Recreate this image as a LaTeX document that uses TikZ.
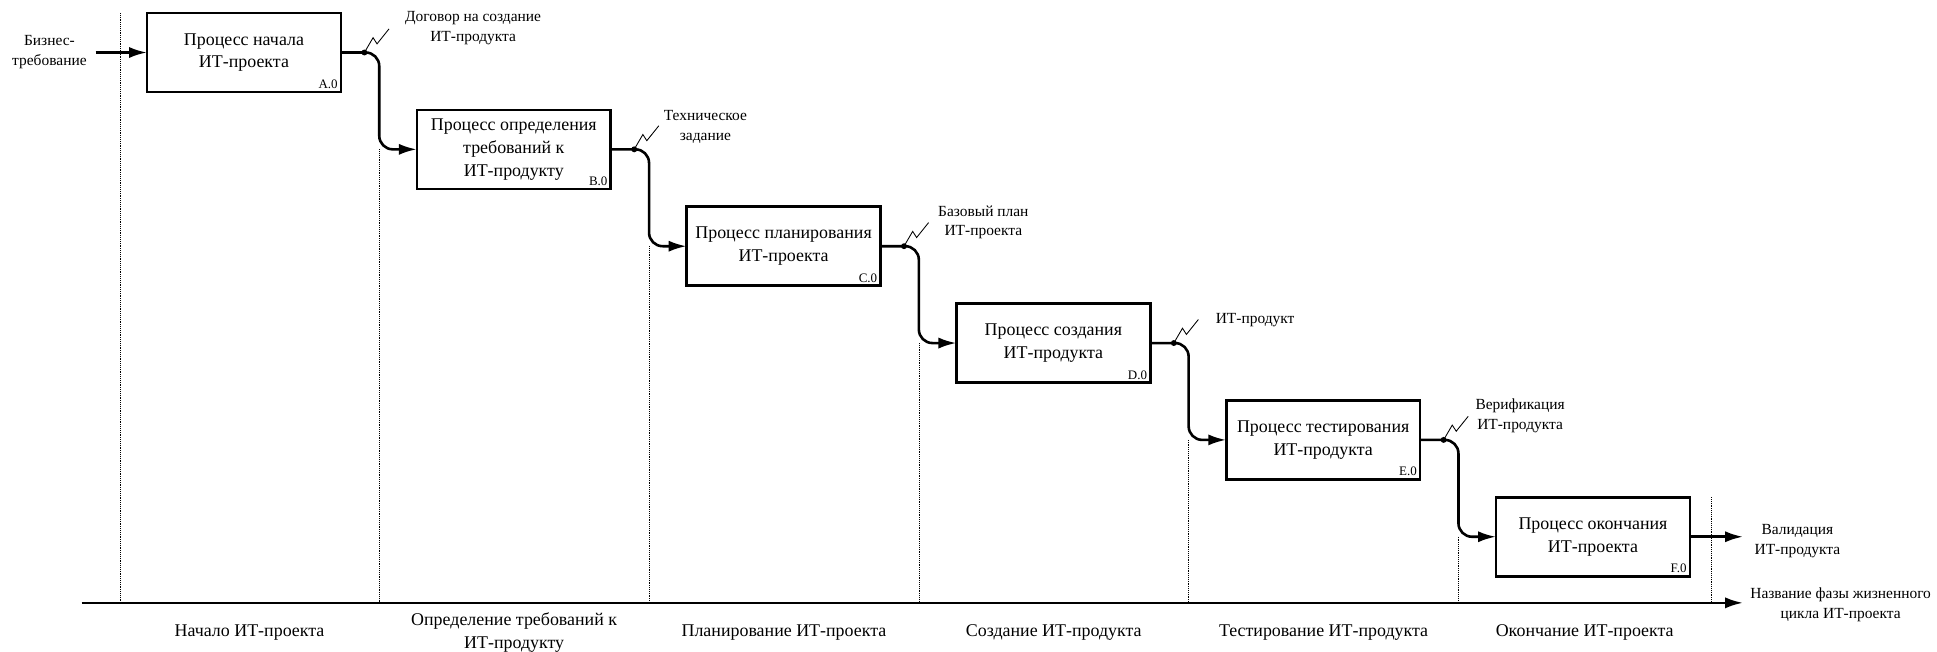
\documentclass[tikz,border=0pt]{standalone}
\usepackage{fontspec}
\setmainfont{Liberation Serif}
\usetikzlibrary{arrows.meta,calc,positioning}

\begin{document}
\begin{tikzpicture}[x=1pt,y=-1pt,
proc/.style={draw,line width=2.1pt,minimum width=157pt,minimum height=64pt,inner sep=2pt,outer sep=0pt,align=center,font=\fontsize{14.5}{18.5}\selectfont},
flow/.style={line width=2.1pt,-{Latex[length=14.5pt,width=9pt]}},
lbl/.style={align=center,inner sep=0pt,font=\fontsize{12.5}{16}\selectfont},
phlbl/.style={align=center,inner sep=0pt,font=\fontsize{14.5}{19}\selectfont},
code/.style={anchor=south east,inner sep=2.5pt,font=\fontsize{10.5}{12}\selectfont},
sep/.style={densely dotted,line width=0.5pt}]

\useasboundingbox (0,0) rectangle (1568,527);

\node[proc] (A) at (197.5,42.5) {Процесс начала\\ИТ-проекта};
\node[proc,below right=14.4pt and 61.4pt of A] (B) {Процесс определения\\требований к\\ИТ-продукту};
\node[proc,below right=14.4pt and 61.4pt of B] (C) {Процесс планирования\\ИТ-проекта};
\node[proc,below right=14.4pt and 61.4pt of C] (D) {Процесс создания\\ИТ-продукта};
\node[proc,below right=14.4pt and 61.4pt of D] (E) {Процесс тестирования\\ИТ-продукта};
\node[proc,below right=14.4pt and 61.4pt of E] (F) {Процесс окончания\\ИТ-проекта};

\foreach \nn in {A,...,F}{
\node[code] (c\nn) at (\nn.south east) {\nn.0};
}

% time axis
\draw [line width=2.1pt,-{Latex[length=14.5pt,width=9pt]}] (66,488) coordinate(ax0) -- (1411,488) coordinate(ax1);
\node[lbl] (axl) at (1490,489.5) {Название фазы жизненного\\цикла ИТ-проекта};

% phase borders
\coordinate (s0) at ($(A.north west)+(-22,0)$);
\coordinate (s6) at ($(F.north east)+(17,0)$);
\draw [sep] (s0) -- (s0|-ax0);
\draw [sep] (s6) -- (s6|-ax0);

\foreach \aa/\bb in {A/B,B/C,C/D,D/E,E/F}{
\draw [flow,rounded corners=11pt] (\aa.east) -- ++(31,0) coordinate(v\aa) |- (\bb.west);
\draw [sep] (v\aa|-\bb.west) -- (v\aa|-ax0);
\fill ($(\aa.east)+(19,0)$) coordinate(o\aa) circle (2.4pt);
\draw [line width=0.7pt] (o\aa) -- ++(7,-12) -- ++(3.2,5) -- ++(9.7,-12.1);
}

% inputs and outputs
\node[lbl] (in) at (40,42) {Бизнес-\\требование};
\draw [flow] ($(A.west)+(-41.5,0)$) coordinate(inA) -- (A.west);
\node[lbl] (oA) at (383,22.5) {Договор на создание\\ИТ-продукта};
\node[lbl] (oB) at (571,102.8) {Техническое\\задание};
\node[lbl] (oC) at (796,180) {Базовый план\\ИТ-проекта};
\node[lbl] (oD) at (1016,259) {ИТ-продукт};
\node[lbl] (oE) at (1230.5,336.7) {Верификация\\ИТ-продукта};
\draw [flow] (F.east) -- (F.east-|ax1) coordinate(outF);
\node[lbl] (oF) at (1455,438) {Валидация\\ИТ-продукта};

\foreach \pa/\pb/\txt [count=\ii] in {s0/vA/{Начало ИТ-проекта},vA/vB/{Определение требований к\\ИТ-продукту},vB/vC/{Планирование ИТ-проекта},vC/vD/{Создание ИТ-продукта},vD/vE/{Тестирование ИТ-продукта},vE/s6/{Окончание ИТ-проекта}}{
\node[phlbl] (ph\ii) at ($(\pa|-ax0)!0.5!(\pb|-ax0)+(0,24)$) {\txt};
}

\end{tikzpicture}
\end{document}
